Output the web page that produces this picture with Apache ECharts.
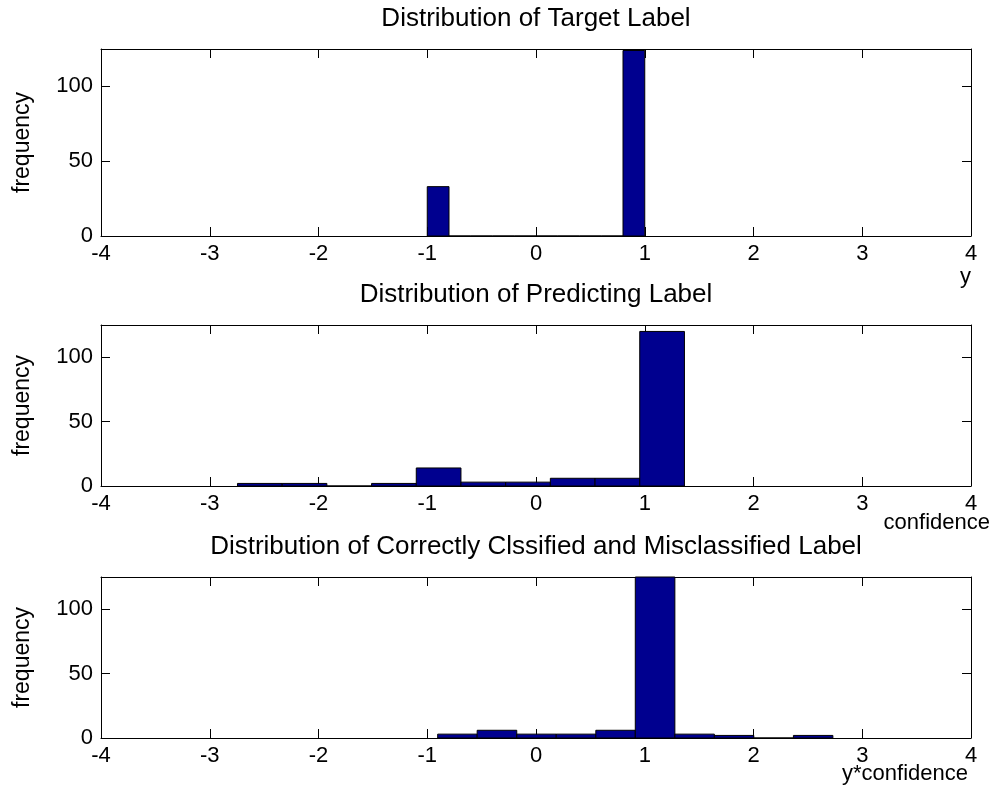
<!DOCTYPE html>
<html><head><meta charset="utf-8">
<script src="https://cdn.jsdelivr.net/npm/echarts@6/dist/echarts.min.js"></script>
<style>html,body{margin:0;padding:0;background:#fff}#c{width:993px;height:800px}</style>
</head><body><div id="c"></div>
<script>
// ---- data ----
const xTickValues = [-4, -3, -2, -1, 0, 1, 2, 3, 4];
const yTickValues = [0, 50, 100];
const panelTitles = ['Distribution of Target Label', 'Distribution of Predicting Label', 'Distribution of Correctly Clssified and Misclassified Label'];
const xAxisNames = ['y', 'confidence', 'y*confidence'];
const yAxisName = 'frequency';

const targetEdges = [-1, -0.8, -0.6, -0.4, -0.2, 0, 0.2, 0.4, 0.6, 0.8, 1];
const targetCounts = [33, 0, 0, 0, 0, 0, 0, 0, 0, 124];

const predictEdges = [-2.745, -2.334, -1.923, -1.512, -1.101, -0.690, -0.279, 0.132, 0.543, 0.954, 1.365];
const predictCounts = [2, 2, 0, 2, 14, 3, 3, 6, 6, 120];

const productEdges = [-0.904, -0.541, -0.177, 0.186, 0.550, 0.913, 1.277, 1.640, 2.003, 2.367, 2.730];
const productCounts = [3, 6, 3, 3, 6, 130, 3, 2, 0, 2];

// ---- chart ----
const FONT = "'Liberation Sans', Arial, Helvetica, sans-serif";
const grids = [
  {left: 101, top: 49, width: 870, height: 187},
  {left: 101, top: 325, width: 870, height: 161},
  {left: 101, top: 577, width: 870, height: 161}
];
const histograms = [[targetEdges, targetCounts], [predictEdges, predictCounts], [productEdges, productCounts]];

function binsOf(edges, counts) {
  return counts.map((c, i) => [edges[i], edges[i + 1], c]);
}
function renderBar(params, api) {
  const x0 = api.value(0), x1 = api.value(1), c = api.value(2);
  const p0 = api.coord([x0, 0]);
  const p1 = api.coord([x1, c]);
  const cs = params.coordSys;
  const shape = echarts.graphic.clipRectByRect(
    {x: p0[0], y: p1[1], width: p1[0] - p0[0], height: p0[1] - p1[1]},
    {x: cs.x, y: cs.y, width: cs.width, height: cs.height});
  if (!shape) return null;
  return {type: 'rect', shape: shape, style: {fill: '#00008F', stroke: '#000', lineWidth: 1}};
}

const line = {show: true, onZero: false, lineStyle: {color: '#000', width: 1}};
const tick = {show: true, inside: true, length: 9, lineStyle: {color: '#000', width: 1}};
const xAxes = [], yAxes = [], series = [], titles = [];
const titleCenters = [19, 295, 547];
const xNamePos = [[971, 266], [990, 512], [968, 763]];

grids.forEach((g, i) => {
  xAxes.push({
    gridIndex: i, type: 'value', min: xTickValues[0], max: xTickValues[xTickValues.length - 1], interval: 1,
    position: 'bottom', axisLine: line, axisTick: tick, splitLine: {show: false},
    axisLabel: {color: '#000', fontSize: 22, fontFamily: FONT, margin: 7}
  });
  xAxes.push({
    gridIndex: i, type: 'value', min: xTickValues[0], max: xTickValues[xTickValues.length - 1], interval: 1,
    position: 'top', axisLine: line, axisTick: tick, splitLine: {show: false}, axisLabel: {show: false}
  });
  yAxes.push({
    gridIndex: i, type: 'value', min: 0, max: 125, interval: 50, position: 'left',
    axisLine: line, axisTick: tick, splitLine: {show: false},
    axisLabel: {color: '#000', fontSize: 22, fontFamily: FONT, margin: 8,
      formatter: v => (yTickValues.indexOf(v) >= 0 ? String(v) : '')},
    name: yAxisName, nameLocation: 'middle', nameGap: 67,
    nameTextStyle: {color: '#000', fontSize: 23, fontFamily: FONT}
  });
  yAxes.push({
    gridIndex: i, type: 'value', min: 0, max: 125, interval: 50, position: 'right',
    axisLine: line, axisTick: tick, splitLine: {show: false}, axisLabel: {show: false}
  });
  series.push({
    type: 'custom', xAxisIndex: 2 * i, yAxisIndex: 2 * i,
    data: binsOf(histograms[i][0], histograms[i][1]),
    renderItem: renderBar, silent: true
  });
  titles.push({
    text: panelTitles[i], left: 536, top: titleCenters[i] - 13, textAlign: 'center', padding: 0,
    textStyle: {color: '#000', fontSize: 26, fontWeight: 'normal', fontFamily: FONT}
  });
  titles.push({
    text: xAxisNames[i], left: xNamePos[i][0], top: xNamePos[i][1], textAlign: 'right', padding: 0,
    textStyle: {color: '#000', fontSize: 22, fontWeight: 'normal', fontFamily: FONT}
  });
});

const chart = echarts.init(document.getElementById('c'), null, {renderer: 'canvas'});
chart.setOption({
  animation: false,
  backgroundColor: '#fff',
  title: titles,
  grid: grids,
  xAxis: xAxes,
  yAxis: yAxes,
  series: series
});
</script>
</body></html>
